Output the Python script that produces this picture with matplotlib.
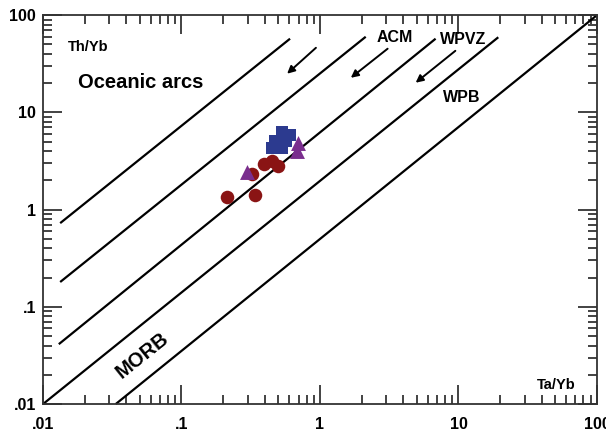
import matplotlib
matplotlib.use("Agg")
import matplotlib.pyplot as plt
import numpy as np
from matplotlib.ticker import FixedLocator, FixedFormatter, LogLocator, NullFormatter

plt.rcParams['font.family'] = ['Liberation Sans', 'DejaVu Sans']
plt.rcParams['font.weight'] = 'bold'

# boundary lines of the Th/Yb - Ta/Yb discrimination diagram (start, end)
line_x0 = [0.0133, 0.0133, 0.0130, 0.0100, 0.0335]
line_y0 = [0.726, 0.180, 0.0413, 0.0100, 0.0100]
line_x1 = [0.608, 2.14, 6.84, 19.4, 100.0]
line_y1 = [57.3, 60.0, 57.3, 59.3, 100.0]

# enrichment arrows (tail -> head)
arrow_tail_x = [0.935, 3.08, 9.5]
arrow_tail_y = [46.2, 45.2, 43.0]
arrow_head_x = [0.579, 1.67, 4.91]
arrow_head_y = [25.0, 22.7, 20.2]

# samples
red_x = [0.213, 0.340, 0.325, 0.395, 0.451, 0.499]
red_y = [1.334, 1.40, 2.35, 2.98, 3.20, 2.78]
blue_x = [0.449, 0.475, 0.530, 0.535, 0.569, 0.609]
blue_y = [4.35, 5.13, 6.35, 4.35, 5.13, 5.92]
purple_x = [0.298, 0.686, 0.695]
purple_y = [2.41, 4.05, 4.90]

tick_vals = [0.01, 0.1, 1, 10, 100]
tick_labels = ['.01', '.1', '1', '10', '100']

fig = plt.figure(figsize=(6.06, 4.34), dpi=100)
ax = fig.add_axes([0.071, 0.069, 0.914, 0.896])
ax.set_xscale('log')
ax.set_yscale('log')
ax.set_xlim(0.01, 100)
ax.set_ylim(0.01, 100)

for x0, y0, x1, y1 in zip(line_x0, line_y0, line_x1, line_y1):
    ax.plot([x0, x1], [y0, y1], color='black', lw=1.6, solid_capstyle='butt', clip_on=False)

for tx, ty, hx, hy in zip(arrow_tail_x, arrow_tail_y, arrow_head_x, arrow_head_y):
    ax.annotate('', xy=(hx, hy), xytext=(tx, ty),
                arrowprops=dict(arrowstyle='-|>', lw=1.4, color='black',
                                mutation_scale=11, shrinkA=0, shrinkB=0))

ax.scatter(red_x, red_y, s=95, color='#8a1414', zorder=3, linewidths=0)
ax.scatter(blue_x, blue_y, s=85, marker='s', color='#2c3a8f', zorder=3, linewidths=0)
ax.scatter(purple_x, purple_y, s=115, marker='^', color='#7a2e8e', zorder=4, linewidths=0)

ax.text(0.0212, 46.6, 'Th/Yb', fontsize=10.5, fontweight='bold', ha='center', va='center')
ax.text(0.051, 20.2, 'Oceanic arcs', fontsize=14.5, fontweight='bold', ha='center', va='center')
ax.text(3.47, 58.6, 'ACM', fontsize=11.5, fontweight='bold', ha='center', va='center')
ax.text(10.9, 55.8, 'WPVZ', fontsize=11.5, fontweight='bold', ha='center', va='center')
ax.text(10.5, 14.3, 'WPB', fontsize=11.5, fontweight='bold', ha='center', va='center')
ax.text(51.2, 0.0157, 'Ta/Yb', fontsize=10.5, fontweight='bold', ha='center', va='center')
ax.text(0.0524, 0.0318, 'MORB', fontsize=14.5, fontweight='bold', ha='center', va='center',
        rotation=38.7, rotation_mode='anchor')

for axis in (ax.xaxis, ax.yaxis):
    axis.set_major_locator(FixedLocator(tick_vals))
    axis.set_major_formatter(FixedFormatter(tick_labels))
    axis.set_minor_locator(LogLocator(base=10, subs=np.arange(2, 10)))
    axis.set_minor_formatter(NullFormatter())

ax.tick_params(which='both', direction='in', top=True, right=True, width=1.2, color='#222222')
ax.tick_params(which='major', length=13.5, labelsize=11.5, pad=5)
ax.tick_params(which='minor', length=6.8)
ax.tick_params(axis='x', pad=9)
for lab in ax.get_xticklabels() + ax.get_yticklabels():
    lab.set_fontweight('bold')
for sp in ax.spines.values():
    sp.set_linewidth(1.3)
    sp.set_color('#333333')

fig.savefig('out.png', dpi=100)
